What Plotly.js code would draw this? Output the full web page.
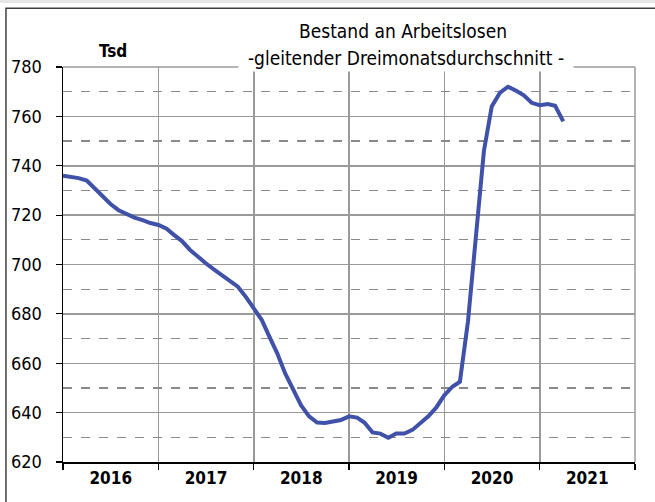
<!DOCTYPE html>
<html>
<head>
<meta charset="utf-8">
<script src="https://cdn.plot.ly/plotly-3.0.1.min.js"></script>
<style>html,body{margin:0;padding:0;background:#fff;}#chart{width:655px;height:502px;}</style>
</head>
<body>
<div id="chart"></div>
<script>
// Monthly values (Tsd), Jan 2016 .. Apr 2021
const startYear = 2016;
const values = [
  736, 735.5, 735, 734, 731, 727.5, 724.5, 722, 720.5, 719, 718, 716.8,
  716, 714.5, 712, 709.5, 706, 703, 700.5, 698, 695.5, 693, 691, 687,
  682, 677.5, 671, 664, 656, 649, 643, 638.5, 636, 635.8, 636.3, 637,
  638.5, 638, 636, 632, 631.5, 629.8, 631.5, 631.5, 633, 635.5, 638.5, 642,
  647, 650.5, 652.5, 677, 712, 746, 764, 769.5, 772, 770.5, 768.5, 765.5,
  764.5, 765, 764.3, 758
];
const yearLabels = ['2016', '2017', '2018', '2019', '2020', '2021'];
const titleText = 'Bestand an Arbeitslosen';
const subtitleText = '-gleitender Dreimonatsdurchschnitt -';
const unitText = 'Tsd';

const months = values.map((v, i) => {
  const y = startYear + Math.floor(i / 12);
  const m = (i % 12) + 1;
  return y + '-' + (m < 10 ? '0' + m : m) + '-01';
});

const FONT = '"Liberation Sans Narrow", "Arial Narrow", "DejaVu Sans Condensed", sans-serif';

const trace = {
  x: months, y: values, type: 'scatter', mode: 'lines',
  line: {color: '#3f51a8', width: 4, shape: 'linear'},
  hoverinfo: 'skip'
};

const layout = {
  width: 655, height: 502,
  margin: {l: 63, r: 20, t: 67, b: 39.5},
  paper_bgcolor: '#fff', plot_bgcolor: '#fff',
  showlegend: false,
  font: {family: FONT, color: '#000', size: 18},
  xaxis: {
    type: 'date',
    range: ['2016-01-01', '2022-01-01'],
    tickmode: 'array',
    tickvals: yearLabels.map(y => y + '-07-02'),
    ticktext: yearLabels,
    ticks: '', showgrid: false,
    showline: true, linecolor: '#000', linewidth: 1.5,
    tickfont: {family: FONT, size: 17, weight: 'bold', color: '#000'},
    ticklabelstandoff: 0,
    minor: {tick0: '2016-01-01', dtick: 'M12', ticks: 'outside', ticklen: 6,
            tickcolor: '#000', tickwidth: 1.2,
            showgrid: true, gridcolor: '#9a9a9a', gridwidth: 1.5},
    zeroline: false, fixedrange: true
  },
  yaxis: {
    range: [620, 780], tick0: 620, dtick: 20,
    showgrid: true, gridcolor: '#9a9a9a', gridwidth: 1.5,
    ticks: 'outside', ticklen: 6, tickcolor: '#000', tickwidth: 1.2,
    showline: true, linecolor: '#000', linewidth: 1.5,
    tickfont: {family: FONT, size: 18, color: '#000'},
    ticklabelstandoff: 10,
    minor: {tick0: 620, dtick: 10, showgrid: true, gridcolor: '#8a8a8a', griddash: 'dash', gridwidth: 1.2, ticks: ''},
    zeroline: false, fixedrange: true
  },
  shapes: [
    {type: 'rect', xref: 'paper', yref: 'paper', x0: -0.2, x1: 1.2, y0: 1.1618, y1: 1.175,
     fillcolor: '#e6e6e6', line: {width: 0}},
    {type: 'rect', xref: 'paper', yref: 'paper', x0: -0.0997, x1: 1.06, y0: -0.15, y1: 1.149,
     line: {color: '#404040', width: 1.5}, fillcolor: 'rgba(0,0,0,0)'},
    {type: 'line', xref: 'paper', yref: 'paper', x0: 0, x1: 1, y0: 1, y1: 1,
     line: {color: '#9a9a9a', width: 1.5}},
    {type: 'line', xref: 'paper', yref: 'paper', x0: 1, x1: 1, y0: 0, y1: 1,
     line: {color: '#9a9a9a', width: 1.5}}
  ],
  annotations: [
    {text: titleText, xref: 'paper', yref: 'paper', x: 0.594, y: 1.091,
     xanchor: 'center', yanchor: 'middle', showarrow: false,
     font: {family: FONT, size: 19, color: '#000'}},
    {text: subtitleText, xref: 'paper', yref: 'paper', x: 0.6, y: 1.024,
     xanchor: 'center', yanchor: 'middle', showarrow: false, width: 330,
     bgcolor: '#fff', borderpad: 2,
     font: {family: FONT, size: 19, color: '#000'}},
    {text: unitText, xref: 'paper', yref: 'paper', x: 0.0874, y: 1.040,
     xanchor: 'center', yanchor: 'middle', showarrow: false,
     font: {family: FONT, size: 17, weight: 'bold', color: '#000'}}
  ]
};

Plotly.newPlot('chart', [trace], layout, {displayModeBar: false, staticPlot: true});
</script>
</body>
</html>
